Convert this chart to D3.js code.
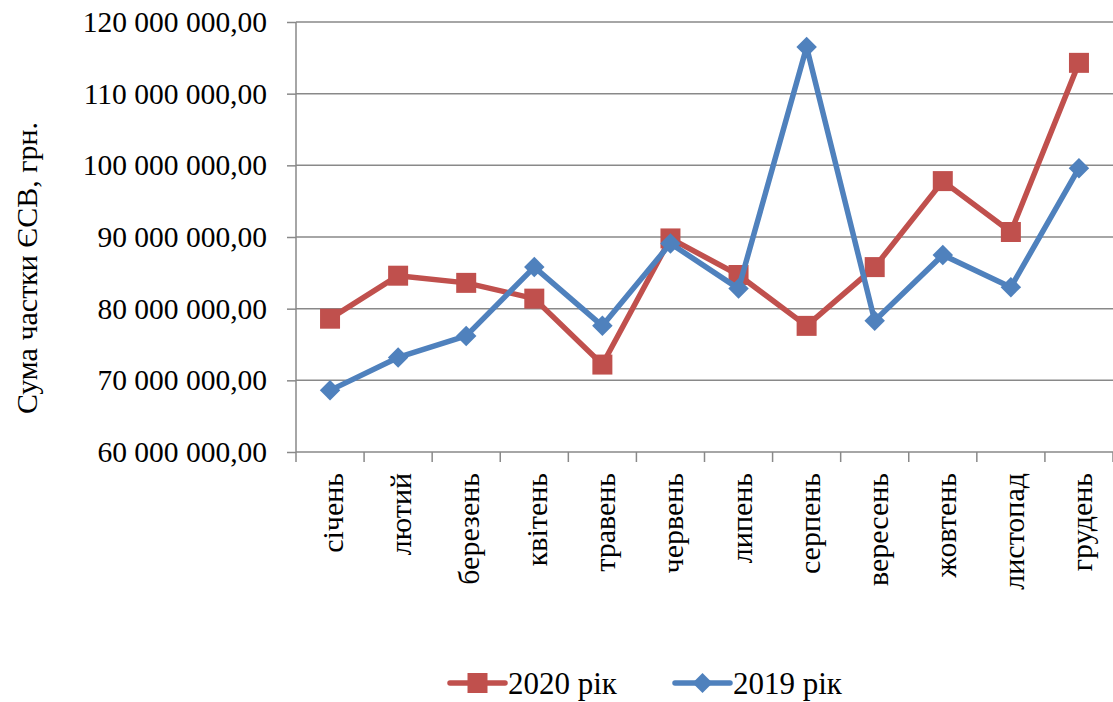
<!DOCTYPE html>
<html>
<head>
<meta charset="utf-8">
<script src="https://cdn.jsdelivr.net/npm/d3@7"></script>
</head>
<body style="margin:0;padding:0;background:#fff">
<script>
const months = ["січень","лютий","березень","квітень","травень","червень","липень","серпень","вересень","жовтень","листопад","грудень"];
const values2020 = [78600000, 84600000, 83600000, 81400000, 72200000, 89800000, 84700000, 77600000, 85800000, 97800000, 90700000, 114300000];
const values2019 = [68600000, 73200000, 76200000, 85800000, 77600000, 89100000, 82800000, 116500000, 78300000, 87500000, 83000000, 99600000];
const yTicks = [60000000, 70000000, 80000000, 90000000, 100000000, 110000000, 120000000];
const seriesNames = ["2020 рік", "2019 рік"];
const yTitle = "Сума частки ЄСВ, грн.";

const FONT = "Liberation Serif";
const svg = d3.select("body").append("svg")
  .attr("width", 1113).attr("height", 702)
  .style("display", "block")
  .attr("font-family", FONT);
const pLeft = 296, pRight = 1113, pTop = 22, pBottom = 452;
const gridColor = "#898989";
const red = "#C0504D", blue = "#4F81BD";

const x = d3.scaleBand().domain(months).range([pLeft, pRight]).padding(0);
const y = d3.scaleLinear().domain([60000000, 120000000]).range([pBottom, pTop]);

const loc = d3.formatLocale({decimal: ",", thousands: " ", grouping: [3], currency: ["", ""]});
const fmt = loc.format(",.2f");

// gridlines
svg.append("g").selectAll("line").data(yTicks).join("line")
  .attr("x1", pLeft).attr("x2", pRight)
  .attr("y1", d => y(d)).attr("y2", d => y(d))
  .attr("stroke", gridColor).attr("stroke-width", 1.5);

// y axis
const yAxis = d3.axisLeft(y).tickValues(yTicks).tickFormat(fmt).tickSize(9).tickPadding(20);
const gy = svg.append("g").attr("transform", `translate(${pLeft},0)`).call(yAxis);
gy.attr("font-family", FONT).attr("font-size", 29.5);
gy.select(".domain").remove();
gy.selectAll(".tick line").attr("stroke", gridColor).attr("stroke-width", 1.5);
gy.selectAll(".tick text").attr("font-family", FONT).attr("font-size", 29.5).attr("fill", "#000");
svg.append("line").attr("x1", pLeft).attr("x2", pLeft).attr("y1", pTop).attr("y2", pBottom)
  .attr("stroke", gridColor).attr("stroke-width", 1.5);

// x axis ticks at band boundaries
const bounds = months.map(m => x(m)).concat([pRight]);
svg.append("g").selectAll("line").data(bounds).join("line")
  .attr("x1", d => d).attr("x2", d => d)
  .attr("y1", pBottom).attr("y2", pBottom + 10)
  .attr("stroke", gridColor).attr("stroke-width", 1.5);

// x labels
svg.append("g").selectAll("text").data(months).join("text")
  .attr("transform", d => `translate(${x(d) + x.bandwidth() / 2 + 13},${pBottom + 21}) rotate(-90)`)
  .attr("text-anchor", "end")
  .attr("font-family", FONT)
  .attr("font-size", 30)
  .text(d => d);

// y title
svg.append("text")
  .attr("transform", `translate(37,268) rotate(-90)`)
  .attr("text-anchor", "middle")
  .attr("font-family", FONT)
  .attr("font-size", 30)
  .text(yTitle);

const cx = d => x(d) + x.bandwidth() / 2;
const line = d3.line().x(d => cx(d.m)).y(d => y(d.v));

function drawSeries(vals, color, shape) {
  const data = months.map((m, i) => ({m, v: vals[i]}));
  svg.append("path").datum(data).attr("d", line)
    .attr("fill", "none").attr("stroke", color).attr("stroke-width", 5.5)
    .attr("stroke-linejoin", "round");
  const sym = shape === "square"
    ? d3.symbol().type(d3.symbolSquare).size(400)
    : d3.symbol().type(d3.symbolSquare).size(210);
  svg.append("g").selectAll("path").data(data).join("path")
    .attr("transform", d => `translate(${cx(d.m)},${y(d.v)})${shape === "square" ? "" : " rotate(45)"}`)
    .attr("d", sym())
    .attr("fill", color);
}
drawSeries(values2020, red, "square");
drawSeries(values2019, blue, "diamond");

// legend
const legend = [
  {name: seriesNames[0], color: red, shape: "square", x1: 450, x2: 505, tx: 508},
  {name: seriesNames[1], color: blue, shape: "diamond", x1: 675, x2: 730, tx: 733}
];
const ly = 683;
legend.forEach(l => {
  svg.append("line").attr("x1", l.x1).attr("x2", l.x2).attr("y1", ly).attr("y2", ly)
    .attr("stroke", l.color).attr("stroke-width", 5.5).attr("stroke-linecap", "round");
  const mx = (l.x1 + l.x2) / 2;
  if (l.shape === "square") {
    svg.append("path").attr("transform", `translate(${mx},${ly})`)
      .attr("d", d3.symbol().type(d3.symbolSquare).size(400)()).attr("fill", l.color);
  } else {
    svg.append("path").attr("transform", `translate(${mx},${ly}) rotate(45)`)
      .attr("d", d3.symbol().type(d3.symbolSquare).size(200)()).attr("fill", l.color);
  }
  svg.append("text").attr("x", l.tx).attr("y", ly + 11)
    .attr("font-family", FONT).attr("font-size", 31).text(l.name);
});
</script>
</body>
</html>
